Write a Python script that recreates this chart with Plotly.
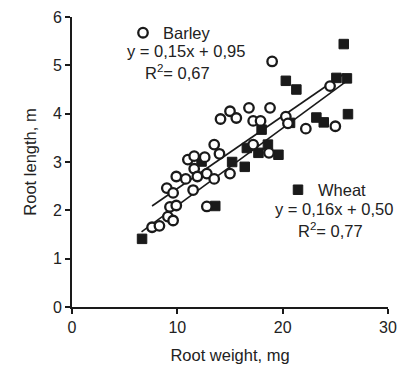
import plotly.graph_objects as go

barley_x = [7.6, 8.3, 9.1, 9.6, 9.3, 9.9, 9.0, 9.6, 9.9, 10.8, 11.0, 11.6, 11.6, 11.9, 11.5,
            12.8, 13.5, 12.8, 15.0, 13.5, 14.0, 12.6, 14.1, 15.0, 15.6, 16.8, 18.8, 17.2, 17.9,
            19.0, 20.3, 20.5, 22.2, 25.0, 24.5, 17.2, 18.7]
barley_y = [1.65, 1.68, 1.87, 1.79, 2.07, 2.10, 2.46, 2.36, 2.70, 2.65, 3.05, 3.12, 2.86, 2.70, 2.42,
            2.76, 2.65, 2.08, 2.76, 3.36, 3.17, 3.10, 3.89, 4.05, 3.91, 4.12, 4.12, 3.85, 3.85,
            5.08, 3.94, 3.80, 3.69, 3.74, 4.57, 3.36, 3.19]

wheat_x = [6.65, 12.3, 13.6, 15.2, 16.4, 16.6, 17.7, 18.6, 19.6, 18.0, 20.7, 23.2, 23.9,
           20.3, 21.3, 25.1, 26.1, 25.8, 26.2]
wheat_y = [1.41, 3.01, 2.09, 3.00, 2.90, 3.29, 3.19, 3.36, 3.15, 3.67, 3.81, 3.92, 3.82,
           4.68, 4.50, 4.74, 4.73, 5.44, 3.99]

barley_fit = (0.15, 0.95)
wheat_fit = (0.16, 0.50)
barley_fit_x = [7.6, 25.8]
wheat_fit_x = [6.6, 26.2]

x_ticks = [0, 10, 20, 30]
y_ticks = [0, 1, 2, 3, 4, 5, 6]

FONT = "Liberation Sans, Arial, sans-serif"
INK = "#1a1a1a"

# plot area in reference pixels: x 72..388, y 17..307 (page has an 8px body margin)
def px(xp):
    return (xp - 72) / 316

def py(yp):
    return (307 - yp) / 290

fig = go.Figure()
fig.add_trace(go.Scatter(
    x=barley_fit_x, y=[barley_fit[0] * v + barley_fit[1] for v in barley_fit_x],
    mode="lines", line=dict(color=INK, width=1.6), showlegend=False, hoverinfo="skip"))
fig.add_trace(go.Scatter(
    x=wheat_fit_x, y=[wheat_fit[0] * v + wheat_fit[1] for v in wheat_fit_x],
    mode="lines", line=dict(color=INK, width=1.6), showlegend=False, hoverinfo="skip"))
fig.add_trace(go.Scatter(
    x=wheat_x, y=wheat_y, mode="markers", name="Wheat", legend="legend2",
    marker=dict(symbol="square", size=9.5, color=INK, line=dict(color=INK, width=1))))
fig.add_trace(go.Scatter(
    x=barley_x, y=barley_y, mode="markers", name="Barley", legend="legend",
    marker=dict(symbol="circle", size=9.5, color="white", line=dict(color=INK, width=2.3))))

ann_font = dict(size=16.5, color="#222", family=FONT)
for text, xp, yp in [("y = 0,15x + 0,95", 186, 51), ("R<sup>2</sup>= 0,67", 177, 72),
                     ("y = 0,16x + 0,50", 334, 209), ("R<sup>2</sup>= 0,77", 330, 230)]:
    fig.add_annotation(text=text, x=px(xp), y=py(yp), xref="paper", yref="paper",
                       showarrow=False, font=ann_font, xanchor="center", yanchor="middle")

fig.update_layout(
    width=397, height=365,
    margin=dict(l=64, r=17, t=9, b=66, autoexpand=False),
    paper_bgcolor="white", plot_bgcolor="white",
    font=dict(family=FONT, size=16, color="#222"),
    legend=dict(x=px(143 - 20), y=py(33), xanchor="left", yanchor="middle",
                bgcolor="rgba(0,0,0,0)", font=dict(size=16.5), itemwidth=30,
                borderwidth=0),
    legend2=dict(x=px(298 - 20), y=py(190), xanchor="left", yanchor="middle",
                 bgcolor="rgba(0,0,0,0)", font=dict(size=16.5), itemwidth=30,
                 borderwidth=0),
    xaxis=dict(range=[0, 30], tickvals=x_ticks, showgrid=False, zeroline=False,
               showline=True, linecolor=INK, linewidth=2, ticks="outside", ticklen=5,
               tickwidth=2, tickcolor=INK, tickfont=dict(size=16),
               title=dict(text="Root weight, mg", font=dict(size=16.5), standoff=14)),
    yaxis=dict(range=[0, 6], tickvals=y_ticks, showgrid=False, zeroline=False,
               showline=True, linecolor=INK, linewidth=2, ticks="outside", ticklen=5,
               tickwidth=2, tickcolor=INK, tickfont=dict(size=16),
               title=dict(text="Root length, m", font=dict(size=16.5), standoff=12)),
)

fig.write_html("out.html")
